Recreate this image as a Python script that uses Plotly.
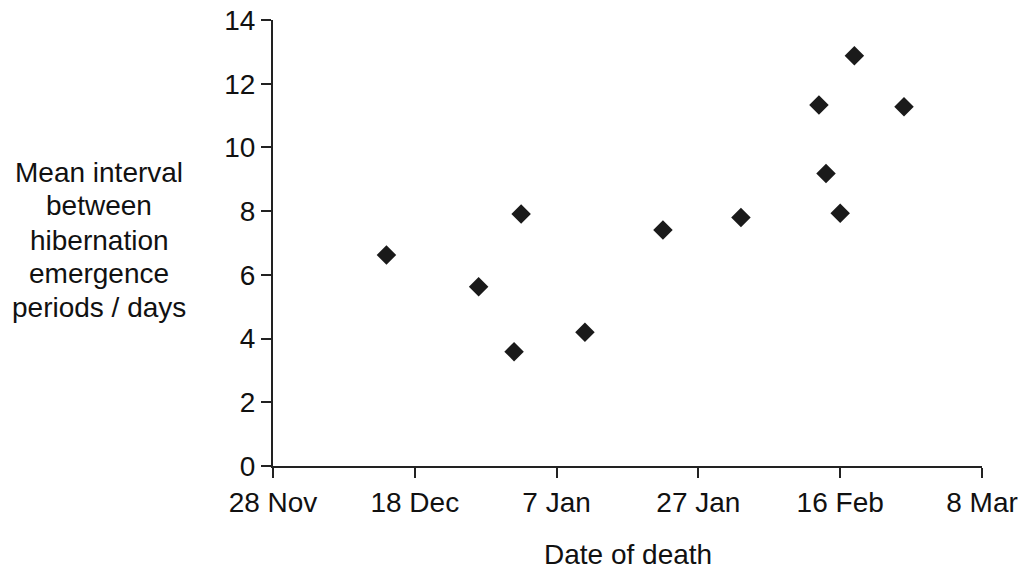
import plotly.graph_objects as go

dates = ["2001-12-14", "2001-12-27", "2002-01-02", "2002-01-01", "2002-01-11",
         "2002-01-22", "2002-02-02", "2002-02-13", "2002-02-14", "2002-02-16",
         "2002-02-18", "2002-02-25"]
intervals = [6.62, 5.63, 7.91, 3.59, 4.20, 7.41, 7.80, 11.33, 9.18, 7.93, 12.88, 11.28]

tick_dates = ["2001-11-28", "2001-12-18", "2002-01-07", "2002-01-27", "2002-02-16", "2002-03-08"]
tick_labels = ["28 Nov", "18 Dec", "7 Jan", "27 Jan", "16 Feb", "8 Mar"]
y_ticks = [0, 2, 4, 6, 8, 10, 12, 14]
y_title_lines = ["Mean interval", "between", "hibernation", "emergence", "periods / days"]
x_title = "Date of death"

FAM = "Liberation Sans, Arial, sans-serif"
font = dict(family=FAM, size=28, color="#111")

W, H = 1025, 569
L, R, T, B = 273, 43, 20, 103
plot_w = W - L - R
plot_h = H - T - B

fig = go.Figure()
fig.add_trace(go.Scatter(
    x=dates, y=intervals, mode="markers",
    marker=dict(symbol="diamond", size=15, color="#1a1a1a"),
    showlegend=False, cliponaxis=False,
))

line_y_px = [172, 205, 240, 273, 307]
annotations = []
for txt, py in zip(y_title_lines, line_y_px):
    annotations.append(dict(
        text=txt, xref="paper", yref="paper",
        x=(99 - L) / plot_w, y=(H - B - py) / plot_h,
        xanchor="center", yanchor="middle", showarrow=False, font=font,
    ))
annotations.append(dict(
    text=x_title, xref="paper", yref="paper", x=0.5, y=-(554 - (H - B)) / plot_h,
    xanchor="center", yanchor="middle", showarrow=False, font=font,
))

fig.update_layout(
    width=W, height=H,
    margin=dict(l=L, r=R, t=T, b=B, autoexpand=False),
    paper_bgcolor="white", plot_bgcolor="white",
    font=font,
    xaxis=dict(
        type="date", range=[tick_dates[0], tick_dates[-1]],
        tickvals=tick_dates, ticktext=tick_labels,
        showgrid=False, zeroline=False, showline=True,
        linecolor="#222", linewidth=2, ticks="outside", ticklen=10,
        tickwidth=2, tickcolor="#222", tickfont=font,
        ticklabeloverflow="allow", automargin=False,
    ),
    yaxis=dict(
        range=[0, 14], tickvals=y_ticks,
        showgrid=False, zeroline=False, showline=True,
        linecolor="#222", linewidth=2, ticks="outside", ticklen=10,
        tickwidth=2, tickcolor="#222", tickfont=font,
        ticklabeloverflow="allow", automargin=False,
    ),
    annotations=annotations,
)

fig.write_html(
    "out.html",
    config={"displayModeBar": False},
    default_width="1025px", default_height="569px",
    post_script="document.body.style.margin='0';document.body.style.overflow='hidden';",
)
